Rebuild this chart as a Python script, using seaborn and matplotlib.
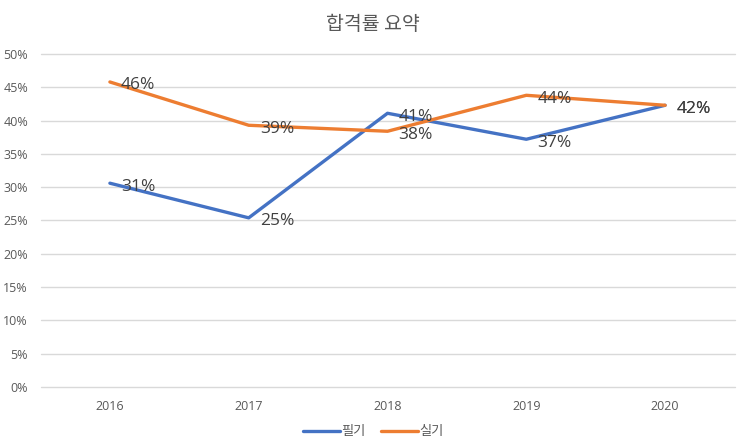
import matplotlib
matplotlib.use("Agg")
import matplotlib.pyplot as plt
import seaborn as sns
import pandas as pd
from matplotlib.ticker import MultipleLocator, FuncFormatter

years = ["2016", "2017", "2018", "2019", "2020"]
written = [30.6, 25.4, 41.1, 37.2, 42.3]
practical = [45.8, 39.3, 38.4, 43.8, 42.3]
series_names = ["필기", "실기"]
title = "합격률 요약"

df = pd.DataFrame({
    "year": years * 2,
    "rate": written + practical,
    "series": [series_names[0]] * len(years) + [series_names[1]] * len(years),
})

sns.set_theme(style="white")
plt.rcParams['font.family'] = ['Open Sans', 'Noto Sans CJK KR', 'DejaVu Sans']
korean = ['Noto Sans CJK KR', 'DejaVu Sans']

fig = plt.figure(figsize=(7.46, 4.46), dpi=100)
ax = fig.add_axes([40.5 / 746, 1 - 387 / 446, 694 / 746, 333 / 446])

palette = {series_names[0]: "#4472C4", series_names[1]: "#ED7D31"}
sns.lineplot(data=df, x="year", y="rate", hue="series", palette=palette,
             linewidth=2.4, ax=ax, sort=False)

for name, vals in zip(series_names, [written, practical]):
    for i, v in enumerate(vals):
        ax.annotate(f"{round(v):d}%", (i, v), xytext=(8, -2.5), textcoords="offset points",
                    ha="left", va="center", fontsize=12.5, color="#404040",
                    family="Open Sans")

ax.set_xlim(-0.5, len(years) - 0.5)
ax.set_ylim(0, 50)
ax.yaxis.set_major_locator(MultipleLocator(5))
ax.yaxis.set_major_formatter(FuncFormatter(lambda v, p: f"{v:.0f}%"))
ax.grid(axis="y", color="#D9D9D9", linewidth=1)
for gl in ax.get_ygridlines():
    gl.set_clip_on(False)
ax.set_axisbelow(True)
for s in ax.spines.values():
    s.set_visible(False)
ax.tick_params(axis="both", length=0, labelsize=9, colors="#595959")
ax.tick_params(axis="y", pad=9)
ax.tick_params(axis="x", pad=9)
ax.set_xlabel("")
ax.set_ylabel("")

ax.get_legend().remove()
handles, labels = ax.get_legend_handles_labels()
leg = fig.legend(handles, labels, loc="center", bbox_to_anchor=(373 / 746, 1 - 432 / 446),
                 ncol=2, frameon=False, labelcolor="#595959",
                 handlelength=2.8, handletextpad=0.1, columnspacing=1.2,
                 prop={"family": korean, "size": 9.5})

fig.suptitle(title, x=0.5, y=1 - 24 / 446, va="center", fontsize=14, color="#595959",
             family=korean)

fig.savefig("out.png", dpi=100)
